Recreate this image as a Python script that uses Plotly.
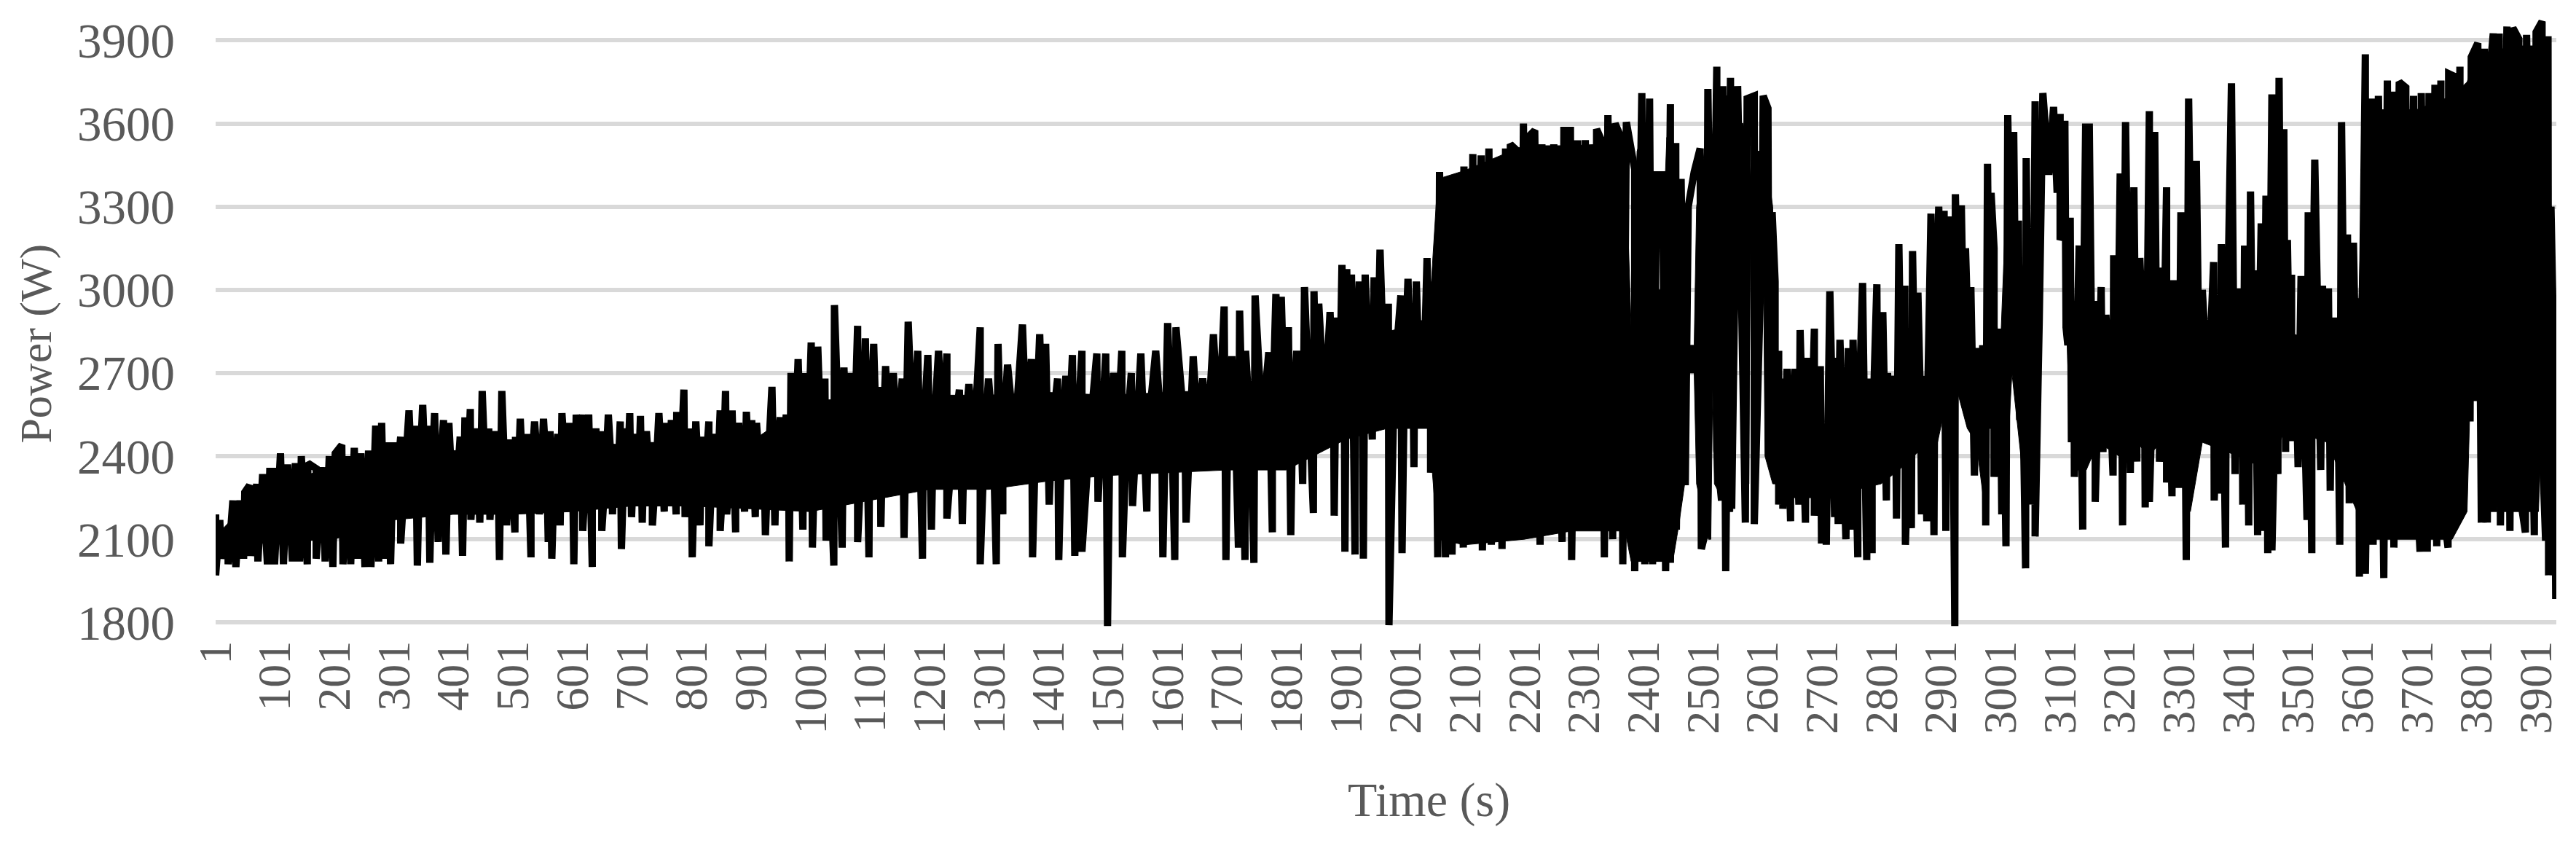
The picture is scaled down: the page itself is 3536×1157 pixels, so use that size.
import plotly.graph_objects as go

peak_time = [1,8,15,22,30,42,50,58,70,80,92,100,110,122,135,145,156,170,182,192,202,213,225,234,245,258,270,280,290,300,312,326,337,349,358,369,384,393,412,420,429,439,449,460,470,482,495,505,513,525,537,552,563,576,583,595,607,618,628,640,650,661,672,681,689,697,708,715,725,735,746,757,767,776,788,800,808,818,830,840,849,858,869,880,893,902,910,922,936,950,960,968,980,990,1002,1013,1025,1041,1057,1068,1080,1093,1107,1118,1127,1140,1155,1165,1181,1198,1216,1230,1251,1267,1286,1300,1316,1332,1357,1372,1386,1396,1416,1430,1441,1457,1482,1497,1510,1524,1540,1556,1581,1601,1615,1644,1660,1678,1696,1709,1722,1732,1748,1771,1783,1792,1804,1818,1831,1847,1855,1874,1885,1894,1902,1910,1923,1933,1948,1958,1972,1993,2005,2012,2019,2028,2037,2043,2050,2058,2071,2088,2099,2114,2128,2141,2154,2169,2177,2187,2199,2211,2218,2230,2250,2267,2278,2290,2303,2322,2330,2341,2353,2363,2372,2386,2398,2411,2423,2433,2446,2455,2464,2476,2486,2496,2509,2524,2534,2547,2559,2575,2587,2602,2610,2617,2622,2628,2635,2642,2655,2664,2675,2688,2698,2714,2725,2731,2745,2753,2769,2778,2793,2803,2811,2821,2830,2840,2853,2862,2871,2884,2897,2906,2915,2925,2935,2942,2951,2961,2971,2979,2985,2990,3000,3013,3023,3031,3044,3052,3059,3072,3090,3101,3109,3118,3124,3133,3144,3150,3160,3170,3178,3191,3202,3211,3225,3235,3251,3260,3268,3280,3291,3304,3317,3330,3340,3359,3372,3389,3402,3411,3421,3428,3439,3447,3457,3469,3477,3483,3490,3506,3518,3529,3542,3552,3561,3574,3584,3594,3603,3614,3626,3636,3651,3660,3671,3682,3695,3708,3721,3731,3741,3754,3764,3773,3783,3792,3803,3814,3822,3829,3839,3852,3862,3872,3885,3901,3911,3921,3926,3932]
peak_power = [2190,2170,2120,2100,2240,2240,2270,2295,2300,2335,2345,2345,2410,2370,2375,2400,2375,2355,2360,2400,2410,2440,2400,2430,2410,2420,2510,2520,2450,2450,2470,2565,2510,2585,2510,2555,2530,2520,2470,2540,2570,2500,2635,2500,2490,2635,2460,2470,2535,2480,2525,2535,2490,2480,2555,2520,2550,2550,2550,2500,2490,2550,2440,2525,2500,2555,2480,2545,2490,2450,2555,2520,2530,2560,2640,2500,2525,2470,2525,2480,2565,2635,2565,2520,2560,2530,2520,2470,2650,2540,2550,2700,2750,2700,2810,2795,2680,2945,2720,2700,2870,2825,2805,2650,2725,2700,2680,2885,2780,2765,2780,2770,2640,2660,2865,2680,2805,2730,2875,2750,2840,2805,2680,2690,2765,2780,2770,2770,2700,2780,2700,2770,2780,2880,2865,2760,2680,2840,2940,2760,2925,2780,2980,2775,2985,2975,2865,2780,3010,2995,2950,2920,2900,3090,3075,3055,3030,3055,3045,3145,2950,2980,3040,2950,3030,2890,3115,2900,3030,3425,3395,3400,3445,3490,3485,3510,3465,3510,3525,3505,3600,3560,3575,3525,3525,3575,3575,3540,3540,3580,3540,3630,3600,3550,3605,3435,3710,3690,3415,3415,3670,3530,3400,3300,3425,3510,3725,3805,3735,3765,3735,3690,3700,3700,3655,3280,3030,2780,2680,2715,2715,2855,2755,2860,2725,2995,2755,2820,2790,2820,3025,2680,3020,2920,2700,2690,3165,3015,3140,2990,2690,3275,3300,3285,3265,3345,3305,3150,3010,2790,2800,3455,3350,3150,2860,3630,3570,3250,3475,3125,3680,3710,3660,3635,3610,3260,2960,3160,3600,3600,2960,3010,2910,3125,3420,3605,3370,3115,3645,3570,3080,3370,3035,3280,3690,3465,3000,3100,3165,3745,3005,3160,3355,3070,3240,3340,3705,3765,3580,3180,3055,3050,3280,3470,3015,3005,2900,3605,3200,3170,2970,3850,3690,3700,3755,3715,3750,3730,3700,3710,3710,3740,3755,3780,3770,3805,3705,3840,3890,3870,3750,3925,3925,3950,3945,3905,3920,3930,3968,3915,3300,2630]

dip_time = [1,10,22,35,48,60,72,88,100,115,130,142,155,170,185,198,215,228,240,252,262,275,285,295,312,340,361,375,388,416,430,445,462,478,490,504,520,531,545,560,566,580,603,618,634,650,668,683,700,718,735,755,775,790,802,815,830,849,860,875,890,908,925,941,965,988,1004,1027,1040,1054,1080,1099,1119,1158,1189,1204,1230,1256,1286,1313,1324,1374,1402,1418,1445,1457,1484,1500,1525,1542,1566,1593,1613,1632,1699,1720,1731,1746,1777,1808,1828,1846,1881,1899,1916,1930,1945,1973,1995,2015,2043,2055,2068,2079,2098,2108,2116,2130,2145,2163,2176,2194,2207,2227,2247,2264,2280,2290,2300,2310,2321,2335,2349,2366,2386,2403,2416,2438,2446,2456,2471,2498,2506,2516,2524,2532,2539,2549,2556,2563,2572,2587,2600,2612,2622,2628,2635,2648,2662,2673,2688,2700,2708,2722,2728,2741,2751,2761,2776,2785,2795,2809,2826,2841,2851,2868,2877,2889,2909,2924,2957,2976,2990,3003,3010,3033,3043,3052,3059,3069,3082,3101,3111,3120,3125,3139,3152,3160,3173,3190,3206,3219,3230,3244,3251,3268,3280,3289,3300,3313,3323,3336,3360,3369,3379,3395,3408,3418,3433,3442,3450,3457,3467,3473,3480,3490,3501,3511,3516,3524,3539,3555,3571,3587,3604,3614,3627,3645,3656,3662,3682,3695,3706,3718,3725,3734,3741,3753,3764,3773,3790,3809,3819,3836,3841,3857,3872,3883,3898,3911,3917,3922,3934]
dip_power = [1970,2030,2010,2000,2030,2040,2020,2010,2010,2010,2020,2020,2010,2030,2020,2000,2010,2010,2030,2000,2000,2020,2030,2010,2085,2005,2015,2090,2045,2040,2170,2160,2170,2025,2150,2125,2200,2035,2190,2090,2030,2150,2010,2130,2000,2130,2190,2065,2180,2160,2150,2200,2190,2180,2035,2150,2075,2130,2190,2125,2200,2180,2115,2150,2020,2135,2070,2095,2005,2070,2090,2035,2145,2105,2030,2135,2175,2155,2010,2010,2190,2035,2225,2025,2040,2055,2235,1787,2035,2220,2200,2035,2025,2160,2025,2070,2025,2015,2125,2115,2300,2195,2185,2055,2045,2030,2460,1790,2050,2360,2340,2035,2035,2045,2070,2125,2115,2060,2080,2065,2120,2150,2110,2080,2120,2090,2025,2380,2205,2450,2230,2035,2100,2010,1985,2010,2010,1985,2015,2135,2295,2065,2135,2640,2420,2240,1985,2210,3290,3300,2160,2155,3220,2400,2315,2225,2210,2165,2225,2160,2185,2085,2080,2180,2155,2100,2135,2035,2025,2050,2330,2240,2175,2080,2140,2190,2165,2115,2130,1787,2330,2150,2325,2190,2075,2530,1995,2225,2110,3340,3415,3180,2865,2450,2325,2135,2657,2235,2415,2330,2150,2340,2380,2215,2235,2380,2305,2255,2285,2025,2780,2460,2240,2265,2070,2335,2225,2150,2115,2130,2050,2060,2335,2590,2415,2455,2360,2515,2170,2050,2350,2275,2080,2230,1965,1975,2080,1960,2175,2070,2115,2510,2055,2055,2195,2075,2285,2070,2160,2175,2525,2160,2160,2610,2150,2130,2285,2125,2115,2460,2095,1970,1885]

core_time = [305,319,331,343,354,364,377,398,407,424,435,455,465,476,488,500,509,519,531,544,558,570,590,601,613,623,634,645,656,667,677,693,703,712,720,730,741,752,762,772,782,794,804,813,824,835,845,854,864,875,887,898,906,916,929,943,955,964,974,985,996,1008,1019,1033,1049,1062,1074,1087,1100,1112,1122,1133,1147,1160,1173,1190,1207,1223,1240,1259,1276,1293,1308,1324,1344,1364,1379,1391,1406,1423,1435,1449,1470,1490,1504,1517,1532,1548,1568,1591,1608,1630,1652,1669,1687,1702,1715,1727,1740,1760,1777,1788,1798,1811,1825,1839,1851,1865,1880,1890,1898,1906,1916,1928,1940,1953,1965,1982,1999,2009,2016,2024,2032,2040,2047,2631,2648,2660,2670,2682,2693,2706,2720,2728,2738,2749,2761,2773,2785,2798,2807,2816,2825,2835,2847,2858,2867,2878,2890,2902,2911,2920,2930,2939,2947,2956,2966,2975,2982,2995,3006,3018,3027,3038,3048,3056,3066,3080,3096,3105,3114,3121,3128,3139,3147,3155,3165,3174,3185,3197,3207,3218,3230,3243,3256,3264,3274,3286,3298,3311,3324,3335,3350,3366,3380,3396,3407,3416,3425,3434,3443,3452,3463,3473,3480,3487,3498,3512,3524,3536,3547,3557,3568,3579,3589,3599,3608]
core_power = [2300,2300,2310,2300,2310,2300,2310,2300,2310,2300,2310,2300,2310,2300,2310,2300,2310,2320,2310,2320,2310,2320,2320,2320,2330,2320,2330,2320,2330,2330,2320,2330,2330,2340,2330,2330,2340,2330,2340,2330,2340,2330,2340,2330,2340,2330,2340,2330,2340,2330,2340,2340,2330,2340,2350,2360,2370,2380,2390,2400,2400,2410,2420,2420,2430,2420,2430,2420,2430,2430,2440,2430,2440,2450,2440,2450,2450,2460,2450,2450,2460,2450,2460,2450,2460,2470,2460,2470,2470,2470,2480,2470,2480,2480,2480,2490,2480,2490,2490,2490,2490,2490,2490,2500,2490,2500,2500,2500,2500,2510,2510,2520,2520,2530,2530,2540,2540,2560,2570,2590,2600,2610,2620,2630,2640,2650,2670,2680,2680,2690,2690,2690,2690,2690,2690,2380,2370,2380,2370,2380,2390,2390,2400,2390,2400,2400,2410,2410,2420,2420,2430,2440,2450,2460,2490,2500,2530,2560,2600,2780,2850,2840,2810,2800,2780,2550,2560,2650,2800,2550,2700,3000,2750,2700,2650,2800,2900,3480,3350,3200,2800,2700,2650,2700,2650,2600,2620,2620,2610,2600,2610,2600,2620,2680,2610,2600,2610,2590,2580,2590,2600,2610,2620,2610,2610,2600,2620,2620,2620,2630,2620,2630,2620,2620,2630,2650,2650,2650,2640,2630,2620,2630,2620,2620,2610,2590,2560,2520,2480]

band_time = [5,50,100,200,300,400,500,600,700,800,900,1000,1100,1200,1300,1400,1500,1600,1700,1800,1900,1970,2040,2055,2100,2200,2280,2370,2380,2390,2405,2415,2420,2430,2440,2450,2460,2470,2478,2486,2490,2510,2514,2517,2520,2545,2551,2553,2565,2568,2578,2580,2583,2592,2595,2602,2605,2618,2622,2640,2700,2800,2830,2880,2895,2920,2945,2960,2972,2980,2990,3000,3010,3020,3030,3040,3050,3058,3065,3069,3090,3105,3118,3125,3145,3165,3200,3230,3250,3270,3300,3320,3340,3400,3450,3480,3550,3600,3612,3620,3700,3760,3785,3790,3803,3808,3835,3838,3845,3870,3880,3905,3910,3918,3922,3928]
band_high = [2120,2220,2300,2360,2410,2420,2420,2450,2440,2450,2450,2600,2610,2620,2620,2630,2620,2630,2640,2700,2780,2850,2880,3400,3430,3520,3520,3530,2870,3500,3600,3500,3000,3000,3550,3400,3300,2900,2800,2800,3300,3600,3500,3550,3700,3700,3650,3600,3600,3600,3500,3400,3500,3500,3500,3500,3500,3300,2800,2450,2500,2550,2600,2700,3100,3000,3100,2700,2750,3300,3000,2750,3300,3400,3000,3100,2950,3400,3500,3500,3550,3400,2950,2850,3100,2800,2800,2750,3000,2700,2750,3000,2800,2800,3000,2850,2800,2750,3600,3650,3650,3700,3750,3780,3800,3800,3850,3850,3870,3880,3880,3880,3880,3880,3800,2400]
band_low = [2050,2080,2090,2100,2170,2190,2190,2200,2220,2220,2210,2200,2240,2280,2280,2310,2330,2340,2350,2350,2460,2500,2500,2100,2080,2100,2130,2130,2020,2020,2020,2020,2020,2020,2020,2020,2150,2300,2700,2700,2300,2100,2100,2640,2300,2200,2200,3300,3300,2300,2300,3220,2300,2300,3220,3220,2400,2300,2300,2250,2250,2300,2350,2450,2450,2700,2500,2450,2250,2500,2500,2350,2300,2700,2500,2300,2300,2400,2900,3400,3450,3250,2500,2350,2350,2450,2400,2450,2400,2450,2400,2200,2450,2400,2350,2500,2450,2200,2100,2100,2100,2100,2200,2600,2600,2200,2200,2700,2200,2200,2200,2200,2500,2300,2500,2100]

y_ticks = [1800,2100,2400,2700,3000,3300,3600,3900]
x_ticks = list(range(1, 3902, 100))

FONT = "Liberation Serif"
GREY = "#595959"

merged = sorted(zip(peak_time + dip_time + core_time, peak_power + dip_power + core_power), key=lambda p: p[0])
time_s = [p[0] for p in merged]
power_w = [p[1] for p in merged]

fig = go.Figure()
fig.add_trace(go.Scatter(
    x=band_time + band_time[::-1], y=band_high + band_low[::-1],
    mode="lines", fill="toself", fillcolor="#000000",
    line=dict(color="#000000", width=1), hoverinfo="skip", showlegend=False))
fig.add_trace(go.Scatter(
    x=time_s, y=power_w, mode="lines",
    line=dict(color="#000000", width=10, shape="linear"), name="Power", showlegend=False))

fig.update_layout(
    width=3528, height=1149, paper_bgcolor="white", plot_bgcolor="white",
    margin=dict(l=288, r=27, t=11, b=297, pad=0), showlegend=False,
    font=dict(family=FONT, color=GREY),
    xaxis=dict(range=[1, 3935], tickmode="array", tickvals=x_ticks,
               ticktext=[str(v) for v in x_ticks], tickangle=-90, showgrid=False,
               zeroline=False, showline=False, ticks="", ticklabelstandoff=6,
               tickfont=dict(family=FONT, size=64, color=GREY)),
    yaxis=dict(range=[1785, 3980], tickmode="array", tickvals=y_ticks,
               gridcolor="#d9d9d9", gridwidth=6, zeroline=False, showline=False, ticks="",
               ticklabelstandoff=55,
               tickfont=dict(family=FONT, size=67, color=GREY)),
    annotations=[
        dict(text="Time (s)", xref="paper", yref="paper", x=0.5185, y=-0.285,
             xanchor="center", yanchor="middle", showarrow=False,
             font=dict(family=FONT, size=66, color=GREY)),
        dict(text="Power (W)", xref="paper", yref="paper", x=-0.0766, y=0.465,
             xanchor="center", yanchor="middle", showarrow=False, textangle=-90,
             font=dict(family=FONT, size=62, color=GREY)),
    ],
)
fig.write_html("out.html")
